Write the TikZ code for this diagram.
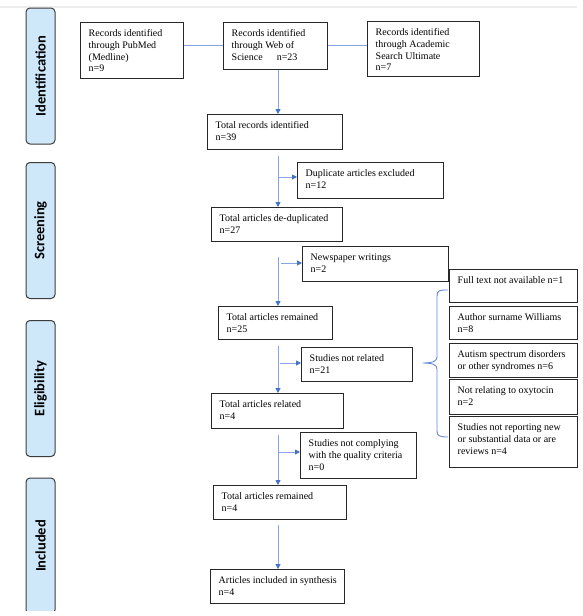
\documentclass[tikz,border=0pt]{standalone}
\usepackage{fontspec}
\setmainfont{Liberation Serif}
\newfontfamily\sidefont{Carlito}
\usetikzlibrary{arrows.meta,calc}
\definecolor{linec}{RGB}{135,165,225}
\definecolor{tipc}{RGB}{68,114,196}
\definecolor{bracec}{RGB}{100,138,210}
\definecolor{sidefill}{RGB}{206,232,250}
\definecolor{sidedraw}{RGB}{60,60,60}
\definecolor{boxdraw}{RGB}{40,40,40}
\tikzset{
  boxst/.style={draw=boxdraw, line width=0.8pt, rectangle, anchor=north west, inner sep=0pt},
  txtst/.style={anchor=north west, inner sep=0pt, align=left, font=\fontsize{10}{11.7}\selectfont},
  sidest/.style={draw=sidedraw, fill=sidefill, line width=1pt, rounded corners=4pt, rotate=90,
    minimum width=136pt, minimum height=29pt, inner sep=0pt, font=\sidefont\bfseries\fontsize{14.5}{16}\selectfont},
  conn/.style={draw=linec, line width=0.9pt},
  arr/.style={draw=linec, line width=0.9pt, -{Triangle[length=5pt,width=5pt,color=tipc]}},
}
\newcommand\flowbox[6]{%
  \pgfmathsetmacro\bw{#4-#2}%
  \pgfmathsetmacro\bh{#5-#3}%
  \node[boxst, minimum width=\bw pt, minimum height=\bh pt] (#1) at (#2,#3) {};
  \node[txtst] (#1t) at ([xshift=8.5pt,yshift=-7.5pt]#1.north west) {#6};
}
\begin{document}
\begin{tikzpicture}[x=1pt,y=-1pt]
\useasboundingbox (0,0) rectangle (582,616);
\fill[white] (0,0) rectangle (582,616);
\draw[black!7, line width=2pt] (0,7) -- (577,7);

% side phase labels
\node[sidest] (ph1) at (40.5,76) {Identification};
\node[sidest] (ph2) at (40.5,230.5) {Screening};
\node[sidest] (ph3) at (40.5,388.5) {Eligibility};
\begin{scope}
  \clip (0,0) rectangle (582,610);
  \node[sidest] (ph4) at (40.5,546) {Included};
\end{scope}

% boxes
\flowbox{pub}{80}{22}{183}{78}{Records identified\\through PubMed\\(Medline)\\n=9}
\flowbox{wos}{223}{22}{327}{69}{Records identified\\through Web of\\Science\hspace{14pt}n=23}
\flowbox{acad}{367}{21}{479}{76}{Records identified\\through Academic\\Search Ultimate\\n=7}
\flowbox{tot1}{207}{114}{342}{149}{Total records identified\\n=39}
\flowbox{dup}{297}{162}{443}{198}{Duplicate articles excluded\\n=12}
\flowbox{dedup}{211}{207}{342}{241}{Total articles de-duplicated\\n=27}
\flowbox{news}{302}{246}{448}{281}{Newspaper writings\\n=2}
\flowbox{rem25}{218}{306}{332}{339}{Total articles remained\\n=25}
\flowbox{notrel}{301}{347}{412}{381}{Studies not related\\n=21}
\flowbox{rel}{211}{393}{343}{428}{Total articles related\\n=4}
\flowbox{notcomp}{300}{432}{416}{478}{Studies not complying\\with the quality criteria\\n=0}
\flowbox{rem4}{213}{485}{346}{519}{Total articles remained\\n=4}
\flowbox{incl}{210}{569}{344}{603}{Articles included in synthesis\\n=4}

\flowbox{r1}{449}{269}{577}{302}{Full text not available n=1}
\flowbox{r2}{449}{306}{577}{339}{Author surname Williams\\n=8}
\flowbox{r3}{449}{343}{577}{377}{Autism spectrum disorders\\or other syndromes n=6}
\flowbox{r4}{449}{379}{577}{414}{Not relating to oxytocin\\n=2}
\flowbox{r5}{449}{416}{577}{467}{Studies not reporting new\\or substantial data or are\\reviews n=4}

% connectors
\coordinate (sp) at (278,0);
\draw[conn] (pub.east |- wos.west) -- (wos.west);
\draw[conn] (wos.east) -- (wos.east -| acad.west);
\draw[arr] (wos.south -| sp) -- (tot1.north -| sp);
\coordinate (s2) at (278,156);
\draw[arr] (s2) -- (dedup.north -| s2);
\coordinate (b2) at (278,177);
\draw[arr] (b2) -- (b2 -| dup.west);
\coordinate (s3) at (278,257);
\draw[arr] (s3) -- (rem25.north -| s3);
\coordinate (b3) at (281,263);
\draw[arr] (b3) -- (b3 -| news.west);
\coordinate (s4) at (278,346);
\draw[arr] (s4) -- (rel.north -| s4);
\coordinate (b4) at (280,363);
\draw[arr] (b4) -- (b4 -| notrel.west);
\coordinate (s5) at (278,435);
\draw[arr] (s5) -- (rem4.north -| s5);
\coordinate (b5) at (278,452);
\draw[arr] (b5) -- (b5 -| notcomp.west);
\coordinate (s6) at (278,525);
\draw[arr] (s6) -- (incl.north -| s6);

% brace
\draw[bracec, line width=0.9pt] (448,290) .. controls (440,290) and (437,290) .. (437,296)
  -- (437,357) .. controls (437,361) and (433,363) .. (423,363)
  .. controls (433,363) and (437,365) .. (437,369)
  -- (437,431) .. controls (437,436) and (440,437) .. (448,437);
\end{tikzpicture}
\end{document}
